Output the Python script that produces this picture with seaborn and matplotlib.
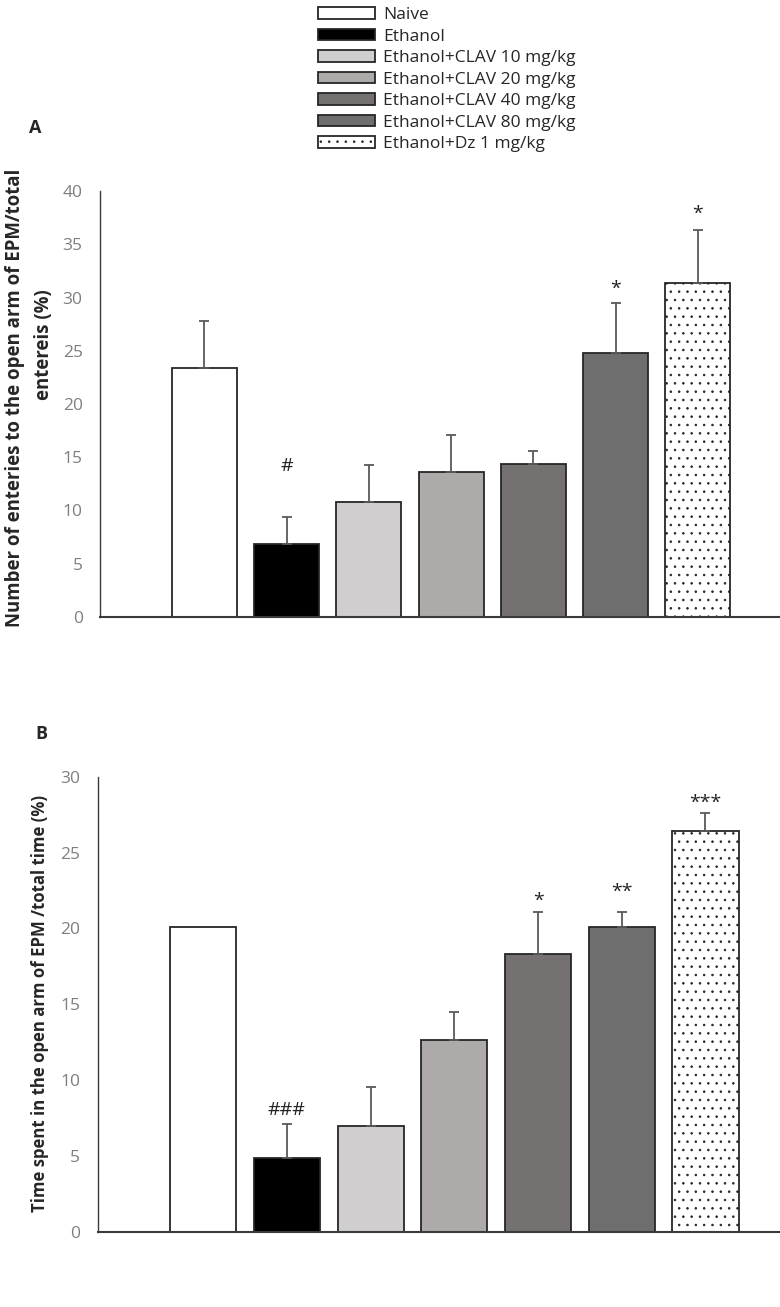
import numpy as np
import pandas as pd
import matplotlib
matplotlib.use("Agg")
import matplotlib.pyplot as plt
import seaborn as sns
from matplotlib.patches import Patch

# ---------------- data ----------------
groups = ["Naive", "Ethanol", "Ethanol+CLAV 10 mg/kg", "Ethanol+CLAV 20 mg/kg",
          "Ethanol+CLAV 40 mg/kg", "Ethanol+CLAV 80 mg/kg", "Ethanol+Dz 1 mg/kg"]

entries_mean = [23.4, 6.85, 10.8, 13.6, 14.4, 24.8, 31.4]
entries_err = [4.4, 2.55, 3.5, 3.5, 1.2, 4.7, 4.9]
entries_marks = ["", "#", "", "", "", "*", "*"]

time_mean = [20.1, 4.85, 6.95, 12.65, 18.3, 20.1, 26.4]
time_err = [0.0, 2.25, 2.6, 1.85, 2.75, 0.95, 1.2]
time_marks = ["", "###", "", "", "*", "**", "***"]

ylabel_a1 = "Number of enteries to the open arm of EPM/total"
ylabel_a2 = "entereis (%)"
ylabel_b = "Time spent in the open arm of EPM /total time (%)"
yticks_a = [0, 5, 10, 15, 20, 25, 30, 35, 40]
yticks_b = [0, 5, 10, 15, 20, 25, 30]

# ---------------- style ----------------
colors = ["#FFFFFF", "#000000", "#D0CECE", "#AEAAAA", "#767171", "#6E6E6E", "#FFFFFF"]
hatches = ["", "", "", "", "", "", ".."]
edge = "#262626"
err_color = "#595959"
# pixel offsets (baseline above error-bar top) for significance marks
marks_pad_a = [0, 46, 0, 0, 0, 9, 12]
marks_pad_b = [0, 9, 0, 0, 7, 16, 5]

sns.set_theme(style="white")
plt.rcParams["font.family"] = ["Open Sans", "DejaVu Sans"]
plt.rcParams["hatch.color"] = "#555555"
plt.rcParams["hatch.linewidth"] = 0.6

W, H = 780, 1307
fig = plt.figure(figsize=(W / 100, H / 100), dpi=100)

ax_a = fig.add_axes([100 / W, 1 - 617 / H, 1 - 100 / W, (617 - 191) / H])
ax_b = fig.add_axes([97.7 / W, 1 - 1231.7 / H, 1 - 97.7 / W, (1231.7 - 776.7) / H])


def panel(ax, means, errs, marks, pads, yticks, xlim):
    df = pd.DataFrame({"group": groups, "value": means})
    sns.barplot(data=df, x="group", y="value", hue="group", palette=colors,
                saturation=1, legend=False, width=0.79, edgecolor=edge,
                linewidth=1.3, errorbar=None, ax=ax)
    for p, h in zip(ax.patches, hatches):
        if h:
            p.set_hatch(h)
    xs = np.arange(len(groups))
    means = np.asarray(means)
    errs = np.asarray(errs)
    m = errs > 0
    ax.errorbar(xs[m], means[m], yerr=[np.zeros(m.sum()), errs[m]], fmt="none",
                ecolor=err_color, elinewidth=1.3, capsize=3.4, capthick=1.3, zorder=3)
    for x, y, e, t, pad in zip(xs, means, errs, marks, pads):
        if t:
            ax.annotate(t, (x, y + e), xytext=(0, pad), textcoords="offset pixels",
                        ha="center", va="baseline", fontsize=14, color="#222222")
    ax.set_ylim(yticks[0], yticks[-1])
    ax.set_yticks(yticks)
    ax.set_xlim(*xlim)
    ax.set_xticks([])
    ax.set_xlabel("")
    ax.set_ylabel("")
    ax.tick_params(axis="y", length=0, pad=12.5, labelsize=12.5, labelcolor="#7F7F7F")
    for s in ["top", "right"]:
        ax.spines[s].set_visible(False)
    ax.spines["left"].set_color("#3A3A3A")
    ax.spines["left"].set_linewidth(1.0)
    ax.spines["bottom"].set_color("#3A3A3A")
    ax.spines["bottom"].set_linewidth(1.5)
    ax.set_facecolor("none")


panel(ax_a, entries_mean, entries_err, entries_marks, marks_pad_a, yticks_a, (-1.27, 7.0))
panel(ax_b, time_mean, time_err, time_marks, marks_pad_b, yticks_b, (-1.26, 6.89))

# y-axis titles
fig.text(15 / W, 1 - 627 / H, ylabel_a1, rotation=90, fontsize=13.4, fontweight="bold",
         ha="center", va="bottom")
fig.text(44 / W, 1 - 400 / H, ylabel_a2, rotation=90, fontsize=13.4, fontweight="bold",
         ha="center", va="bottom")
fig.text(40 / W, 1 - 1004 / H, ylabel_b, rotation=90, fontsize=12.1, fontweight="bold",
         ha="center", va="center")

fig.text(35 / W, 1 - 128 / H, "A", fontsize=13, fontweight="bold", ha="center", va="center")
fig.text(41 / W, 1 - 734 / H, "B", fontsize=13, fontweight="bold", ha="center", va="center")

handles = [Patch(facecolor=c, edgecolor=edge, linewidth=1.3, hatch=h)
           for c, h in zip(colors, hatches)]
fig.legend(handles, groups, loc="upper left", bbox_to_anchor=(318 / W, 1 - 7 / H),
           frameon=False, fontsize=12.5, handlelength=3.3, handleheight=0.65,
           handletextpad=0.45, labelspacing=0.32, borderpad=0, borderaxespad=0)

fig.savefig("out.png", dpi=100, facecolor="white")
